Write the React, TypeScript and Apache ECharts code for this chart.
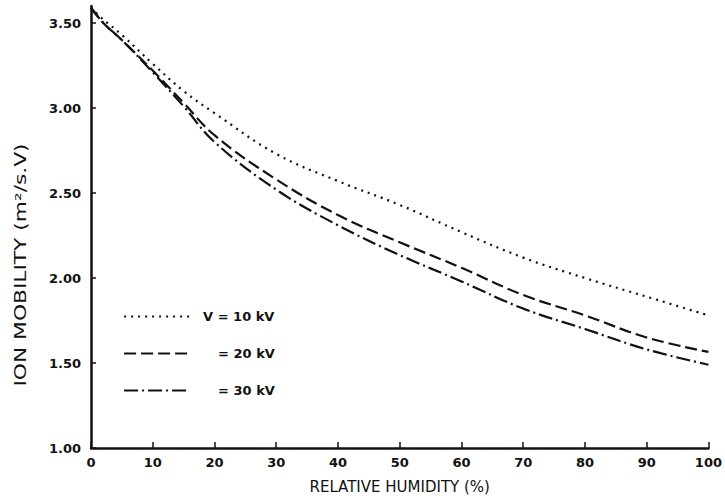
import React, { useEffect, useRef } from "react";
import * as echarts from "echarts";

const humidity = [0, 2, 5, 10, 15, 20, 30, 40, 50, 60, 70, 80, 90, 100];
const mobility10kV = [3.59, 3.52, 3.43, 3.26, 3.1, 2.97, 2.73, 2.57, 2.43, 2.27, 2.12, 2.0, 1.89, 1.78];
const mobility20kV = [3.59, 3.5, 3.4, 3.22, 3.03, 2.84, 2.58, 2.37, 2.21, 2.06, 1.9, 1.78, 1.65, 1.565];
const mobility30kV = [3.59, 3.5, 3.4, 3.21, 3.01, 2.8, 2.52, 2.31, 2.135, 1.98, 1.82, 1.7, 1.58, 1.49];
const seriesNames = ["V = 10 kV", "= 20 kV", "= 30 kV"];
const xTitle = "RELATIVE HUMIDITY (%)";
const yTitle = "ION MOBILITY (m²/s.V)";

const pair = (ys: number[]) => humidity.map((x, i) => [x, ys[i]]);

export default function App() {
  const ref = useRef<HTMLDivElement>(null);
  useEffect(() => {
    if (!ref.current) return;
    const chart = echarts.init(ref.current, null, { renderer: "svg" });
    const font = "DejaVu Sans";
    const lineSeries = (name: string, ys: number[], type: any, width: number) => ({
      name,
      type: "line",
      data: pair(ys),
      smooth: 0.4,
      showSymbol: false,
      symbol: "none",
      lineStyle: { color: "#111", width, type },
      itemStyle: { color: "#111" },
    });
    chart.setOption({
      animation: false,
      backgroundColor: "#fff",
      textStyle: { fontFamily: font, color: "#111" },
      grid: { left: 91, right: 13, top: 6, bottom: 55, containLabel: false },
      legend: {
        orient: "vertical",
        left: 118,
        top: 305,
        itemWidth: 66,
        itemHeight: 14,
        itemGap: 24,
        itemStyle: { color: "rgba(0,0,0,0)", borderWidth: 0, opacity: 0 },
        lineStyle: { color: "#111", width: 2.2 },
        formatter: (name: string) => (name === seriesNames[0] ? `{a|${name}}` : `{b|${name}}`),
        textStyle: {
          fontFamily: font,
          fontSize: 13,
          fontWeight: "bold",
          color: "#111",
          rich: {
            a: { fontFamily: font, fontSize: 13, fontWeight: "bold", color: "#111", padding: [0, 0, 0, 8] },
            b: { fontFamily: font, fontSize: 13, fontWeight: "bold", color: "#111", padding: [0, 0, 0, 23] },
          },
        },
        data: seriesNames,
      },
      graphic: [
        {
          type: "text",
          x: 21,
          y: 265,
          rotation: Math.PI / 2,
          scaleX: 1.45,
          style: {
            text: yTitle,
            fontFamily: font,
            fontSize: 15,
            fill: "#111",
            align: "center",
            verticalAlign: "middle",
          },
        },
      ],
      xAxis: {
        type: "value",
        min: 0,
        max: 100,
        interval: 10,
        name: xTitle,
        nameLocation: "middle",
        nameGap: 31,
        nameTextStyle: { fontFamily: font, fontSize: 15, color: "#111" },
        axisLine: { lineStyle: { color: "#111", width: 2.5 } },
        axisTick: { inside: true, length: 6, lineStyle: { color: "#111", width: 1.5 } },
        axisLabel: { fontFamily: font, fontSize: 13, fontWeight: "bold", color: "#111", margin: 8 },
        splitLine: { show: false },
      },
      yAxis: {
        type: "value",
        min: 1,
        max: 3.6,
        interval: 0.5,
        axisLine: { show: true, lineStyle: { color: "#111", width: 2.5 } },
        axisTick: { show: true, inside: true, length: 5, lineStyle: { color: "#111", width: 1.5 } },
        axisLabel: {
          fontFamily: font,
          fontSize: 13,
          fontWeight: "bold",
          color: "#111",
          margin: 10,
          showMaxLabel: false,
          formatter: (v: number) => v.toFixed(2),
        },
        splitLine: { show: false },
      },
      series: [
        lineSeries(seriesNames[0], mobility10kV, [2, 5], 2.2),
        lineSeries(seriesNames[1], mobility20kV, [12, 5], 2.2),
        lineSeries(seriesNames[2], mobility30kV, [14, 4, 2, 4], 2.2),
      ],
    });
    return () => chart.dispose();
  }, []);
  return (
    <div
      ref={ref}
      style={{ position: "fixed", left: 0, top: 0, width: 725, height: 503, background: "#fff" }}
    />
  );
}
